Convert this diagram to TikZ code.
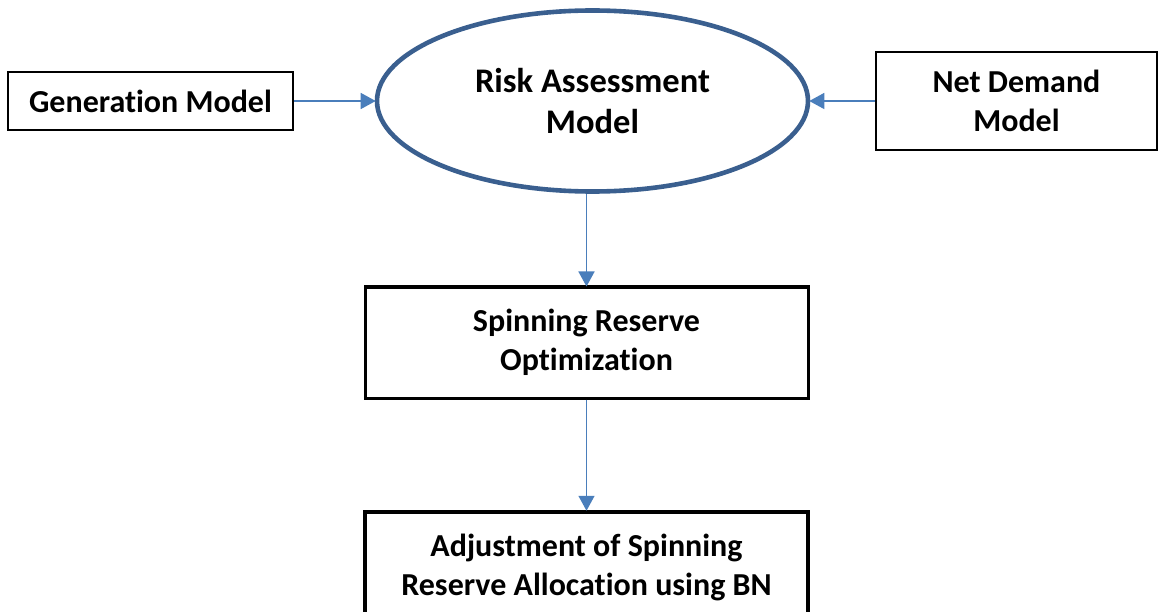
\documentclass[tikz,border=0pt]{standalone}
\usepackage{fontspec}
\setmainfont{Carlito}[Ligatures=NoCommon]
\usetikzlibrary{shapes.geometric,arrows.meta}
\definecolor{ovalblue}{HTML}{3A5F8F}
\definecolor{arrowblue}{HTML}{4A7EBB}
\tikzset{
  lbl/.style={font=\fontsize{32}{39}\selectfont\bfseries, align=center, text=black},
  box/.style={lbl, draw=black, rectangle, inner sep=0pt},
  flow/.style={draw=arrowblue, line width=1.5pt, -{Triangle[length=15pt,width=16pt]}, shorten >=-1pt}
}
\begin{document}
\begin{tikzpicture}[x=1pt,y=-1pt]
  \useasboundingbox (0,0) rectangle (1164,612);
  \clip (0,0) rectangle (1164,612);

  % input models
  \node[box, line width=1.6pt, minimum width=285, minimum height=58] (gen) at (150.5,101) {Generation Model};
  \node[box, line width=1.6pt, minimum width=281, minimum height=98] (net) at (1016.5,101) {Net Demand\\Model};

  % central assessment
  \node[lbl, font=\fontsize{34.5}{41}\selectfont\bfseries, ellipse, draw=ovalblue, line width=4.6pt, inner sep=0pt,
        minimum width=431, minimum height=181] (risk) at (592.5,101) {Risk Assessment\\Model};

  % optimisation stages
  \node[box, line width=3pt, minimum width=443, minimum height=111] (spin) at (586.5,342.5) {Spinning Reserve\\Optimization};
  \node[box, line width=4.5pt, minimum width=443, minimum height=110] (adj) at (586.5,567) {Adjustment of Spinning\\Reserve Allocation using BN};

  % connectors
  \draw[flow] (gen.east) -- (risk.west);
  \draw[flow] (net.west) -- (risk.east);
  \draw[flow] (spin.north |- risk.south) -- (spin.north);
  \draw[flow] (spin.south) -- (adj.north);
\end{tikzpicture}
\end{document}
